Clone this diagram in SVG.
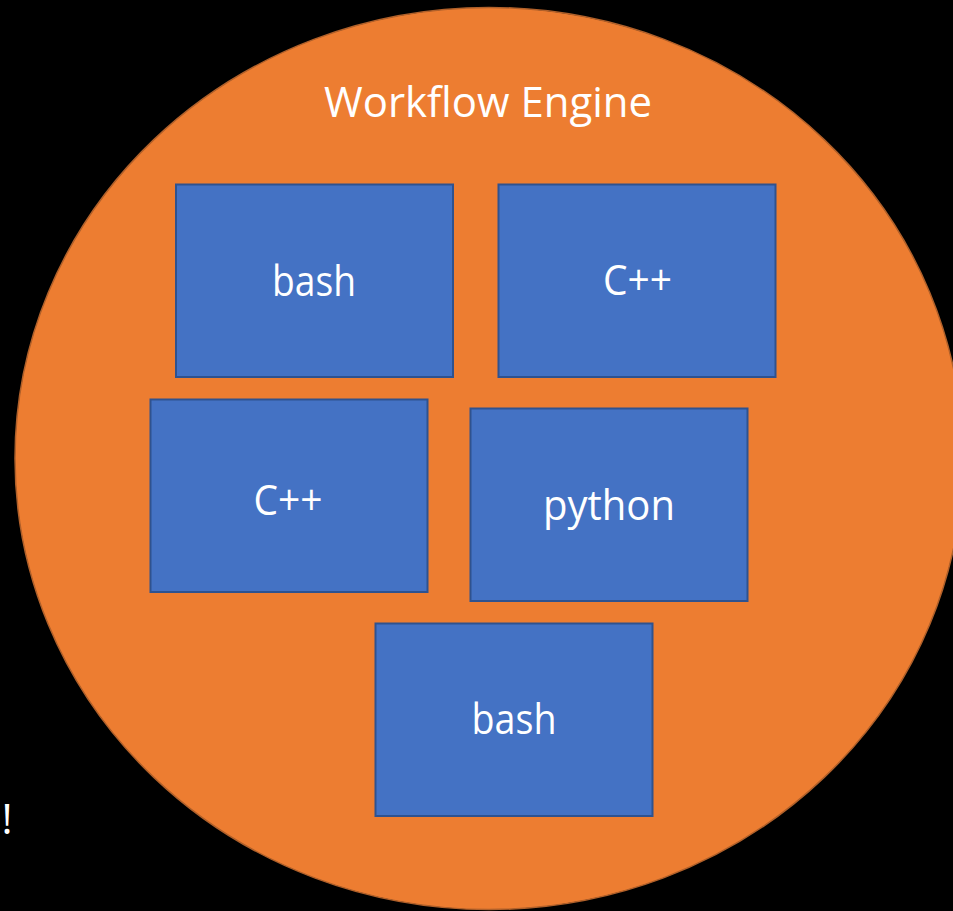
<svg xmlns="http://www.w3.org/2000/svg" width="953" height="911" viewBox="0 0 953 911">
<style>
.box{fill:#4472C4;stroke:#2F528F;stroke-width:2}
.t{font-family:"Open Sans","Liberation Sans",sans-serif;font-size:42px;fill:#FFFFFF;text-anchor:middle}
</style>
<rect width="953" height="911" fill="#000000"/>
<g id="engine">
<ellipse cx="489" cy="458.5" rx="474" ry="451" fill="#ED7D31" stroke="#B0602A" stroke-width="1.5"/>
<text class="t" x="488" y="117" textLength="328" lengthAdjust="spacingAndGlyphs">Workflow Engine</text>
</g>
<g id="bash1">
<rect class="box" x="176" y="184.5" width="277" height="192.5"/>
<text class="t" x="314" y="296" textLength="84" lengthAdjust="spacingAndGlyphs">bash</text>
</g>
<g id="cpp1">
<rect class="box" x="498.5" y="184.5" width="277" height="192.5"/>
<text class="t" x="637.5" y="295" textLength="69" lengthAdjust="spacingAndGlyphs">C++</text>
</g>
<g id="cpp2">
<rect class="box" x="150.5" y="399.5" width="277" height="192.5"/>
<text class="t" x="288" y="515" textLength="69" lengthAdjust="spacingAndGlyphs">C++</text>
</g>
<g id="python">
<rect class="box" x="470.5" y="408.5" width="277" height="192.5"/>
<text class="t" x="609" y="520" textLength="132" lengthAdjust="spacingAndGlyphs">python</text>
</g>
<g id="bash2">
<rect class="box" x="375.5" y="623.5" width="277" height="192.5"/>
<text class="t" x="514" y="734" textLength="85" lengthAdjust="spacingAndGlyphs">bash</text>
</g>
<g id="connectors"></g>
<text class="t" x="7" y="834">!</text>
</svg>
